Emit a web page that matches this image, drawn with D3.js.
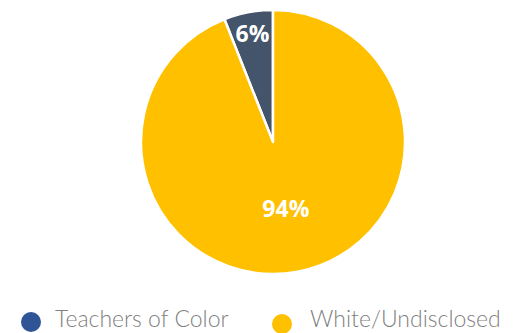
<!DOCTYPE html>
<head>
<meta http-equiv="Content-type" content="text/html;charset=UTF-8">
</head>
<style>
body { margin: 0; background: #fff; }
</style>
<svg width="514" height="333"></svg>
<script src="https://d3js.org/d3.v7.min.js"></script>
<script>

var categories = ["Teachers of Color", "White/Undisclosed"];
var values = [6, 94];
var labels = ["6%", "94%"];
var sliceColors = ["#44546A", "#FFC000"];
var legendColors = ["#2F5597", "#FFC000"];

var svg = d3.select("svg"),
    cx = 273, cy = 142, radius = 132;

var data = categories.map(function(c, i) { return {name: c, value: values[i], label: labels[i]}; });

var pie = d3.pie()
    .sort(null)
    .startAngle(0)
    .endAngle(-2 * Math.PI)
    .value(function(d) { return d.value; });

var arc = d3.arc().innerRadius(0).outerRadius(radius);

var color = d3.scaleOrdinal().domain(categories).range(sliceColors);
var legendColor = d3.scaleOrdinal().domain(categories).range(legendColors);

var g = svg.append("g").attr("transform", "translate(" + cx + "," + cy + ")");

var arcs = pie(data);

g.selectAll("path")
    .data(arcs)
    .enter().append("path")
      .attr("d", arc)
      .attr("fill", function(d) { return color(d.data.name); })
      .attr("stroke", "#fff")
      .attr("stroke-width", 2.5)
      .attr("stroke-linejoin", "round");

// label radii, small slice label sits near the rim
var labelR = [0.83, 0.52];
g.selectAll("text.lbl")
    .data(arcs)
    .enter().append("text")
      .attr("class", "lbl")
      .attr("transform", function(d, i) {
        var a = (d.startAngle + d.endAngle) / 2, r = radius * labelR[i];
        return "translate(" + (Math.sin(a) * r) + "," + (-Math.cos(a) * r) + ")";
      })
      .attr("text-anchor", "middle")
      .attr("dy", "0.35em")
      .attr("fill", "#fff")
      .attr("font-family", "Open Sans, sans-serif")
      .attr("font-weight", "bold")
      .attr("font-size", 23)
      .text(function(d) { return d.data.label; });

var legendX = [31, 282];
var legendY = [322, 324];
var legend = svg.append("g")
    .selectAll("g")
    .data(categories)
    .enter().append("g")
      .attr("transform", function(d, i) { return "translate(" + legendX[i] + "," + legendY[i] + ")"; });

legend.append("circle")
    .attr("r", 10)
    .attr("fill", legendColor);

legend.append("text")
    .attr("x", function(d, i) { return i ? 28 : 24; })
    .attr("y", function(d, i) { return 327 - legendY[i]; })
    .attr("fill", "#7F7F7F")
    .attr("font-family", "Lato, sans-serif")
    .attr("font-weight", 300)
    .attr("font-size", 23)
    .text(function(d) { return d; });

</script>
